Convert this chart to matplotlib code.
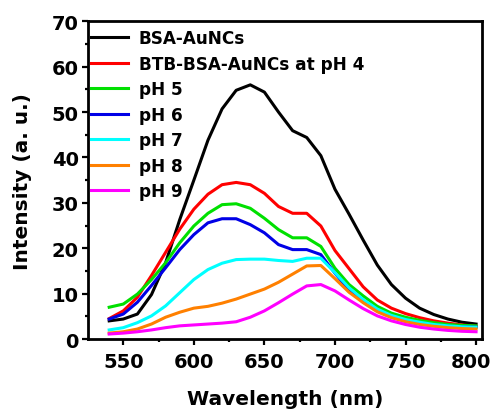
import matplotlib
matplotlib.use("Agg")
import matplotlib.pyplot as plt
from matplotlib.ticker import MultipleLocator
from matplotlib.transforms import ScaledTranslation

wavelength = [540, 550, 560, 570, 580, 590, 600, 610, 620, 630, 640, 650, 660, 670,
              680, 690, 700, 710, 720, 730, 740, 750, 760, 770, 780, 790, 800]

bsa_aunc = [4.0, 4.4, 5.5, 9.8, 16.8, 26.3, 35, 43.8, 50.7, 54.8, 56, 54.4, 50, 45.9,
            44.4, 40.4, 33, 27.5, 21.8, 16.3, 12, 9, 6.8, 5.4, 4.4, 3.7, 3.3]
ph4 = [4.5, 6.2, 9.2, 14, 19.1, 24.2, 28.6, 31.9, 34, 34.5, 34, 32.1, 29.2, 27.7,
       27.7, 24.9, 19.5, 15.5, 11.5, 8.6, 6.8, 5.6, 4.7, 4.0, 3.5, 3.1, 2.8]
ph5 = [7.0, 7.7, 9.9, 13.1, 16.8, 21.2, 24.9, 27.7, 29.6, 29.8, 28.8, 26.6, 24.1, 22.3,
       22.3, 20.4, 15.6, 12.0, 9.5, 7.2, 5.7, 4.8, 4.1, 3.6, 3.2, 3.0, 2.9]
ph6 = [4.4, 5.5, 8.1, 11.8, 15.7, 19.7, 23, 25.6, 26.5, 26.5, 25.2, 23.4, 20.8, 19.7,
       19.7, 18.6, 14.5, 10.8, 8.2, 6.3, 5.0, 4.1, 3.5, 3.1, 2.8, 2.7, 2.6]
ph7 = [2.0, 2.5, 3.6, 5.1, 7.3, 10.2, 13.1, 15.3, 16.7, 17.5, 17.6, 17.6, 17.3, 17.1,
       17.8, 17.8, 14.6, 11.3, 8.7, 6.6, 5.2, 4.3, 3.7, 3.2, 2.9, 2.7, 2.6]
ph8 = [1.3, 1.6, 2.2, 3.3, 4.8, 5.9, 6.8, 7.2, 7.9, 8.8, 9.9, 11.0, 12.5, 14.3,
       16.1, 16.2, 13.3, 10.3, 8.0, 6.0, 4.7, 3.8, 3.2, 2.8, 2.5, 2.3, 2.2]
ph9 = [1.1, 1.3, 1.6, 2.0, 2.5, 2.9, 3.1, 3.3, 3.5, 3.8, 4.8, 6.2, 8.0, 9.9,
       11.7, 12.0, 10.6, 8.6, 6.7, 5.1, 4.0, 3.2, 2.6, 2.2, 1.9, 1.7, 1.6]

series = [bsa_aunc, ph4, ph5, ph6, ph7, ph8, ph9]
labels = ["BSA-AuNCs", "BTB-BSA-AuNCs at pH 4", "pH 5", "pH 6", "pH 7", "pH 8", "pH 9"]
colors = ["#000000", "#ff0000", "#00e000", "#0000e6", "#00ffff", "#ff8000", "#ff00ff"]

plt.rcParams['font.family'] = ['DejaVu Sans']
plt.rcParams['font.weight'] = 'bold'

fig = plt.figure(figsize=(4.93, 4.10), dpi=100)
ax = fig.add_axes([0.1791, 0.1707, 0.798, 0.7749])

for y, lab, c in zip(series, labels, colors):
    ax.plot(wavelength, y, color=c, lw=2.2, label=lab, solid_joinstyle='round')

ax.set_xlim(525.2, 804.0)
ax.set_ylim(0, 70)
ax.xaxis.set_major_locator(MultipleLocator(50))
ax.xaxis.set_minor_locator(MultipleLocator(25))
ax.yaxis.set_major_locator(MultipleLocator(10))
ax.yaxis.set_minor_locator(MultipleLocator(5))
ax.tick_params(which='both', direction='out', top=False, right=False, width=1.6)
ax.tick_params(which='major', length=4, labelsize=14)
ax.tick_params(axis='x', which='major', pad=5)
ax.tick_params(axis='y', which='major', pad=3)
ax.tick_params(which='minor', length=2.5)
for s in ax.spines.values():
    s.set_linewidth(2)
for t in ax.get_xticklabels() + ax.get_yticklabels():
    t.set_fontweight('bold')

fig.canvas.draw()
for t in ax.get_xticklabels():
    if t.get_text() == "800":
        t.set_transform(t.get_transform() + ScaledTranslation(-4 / 72, 0, fig.dpi_scale_trans))

ax.set_xlabel("Wavelength (nm)", fontsize=14.5, fontweight='bold', labelpad=13)
ax.set_ylabel("Intensity (a. u.)", fontsize=14.5, fontweight='bold', labelpad=14)

leg = ax.legend(loc='upper left', frameon=False, fontsize=12.2, handlelength=2.13,
                handletextpad=0.65, labelspacing=0.44, borderpad=0, borderaxespad=0,
                bbox_to_anchor=(0.008, 0.975))
for t in leg.get_texts():
    t.set_fontweight('bold')

fig.savefig("out.png", dpi=100)
